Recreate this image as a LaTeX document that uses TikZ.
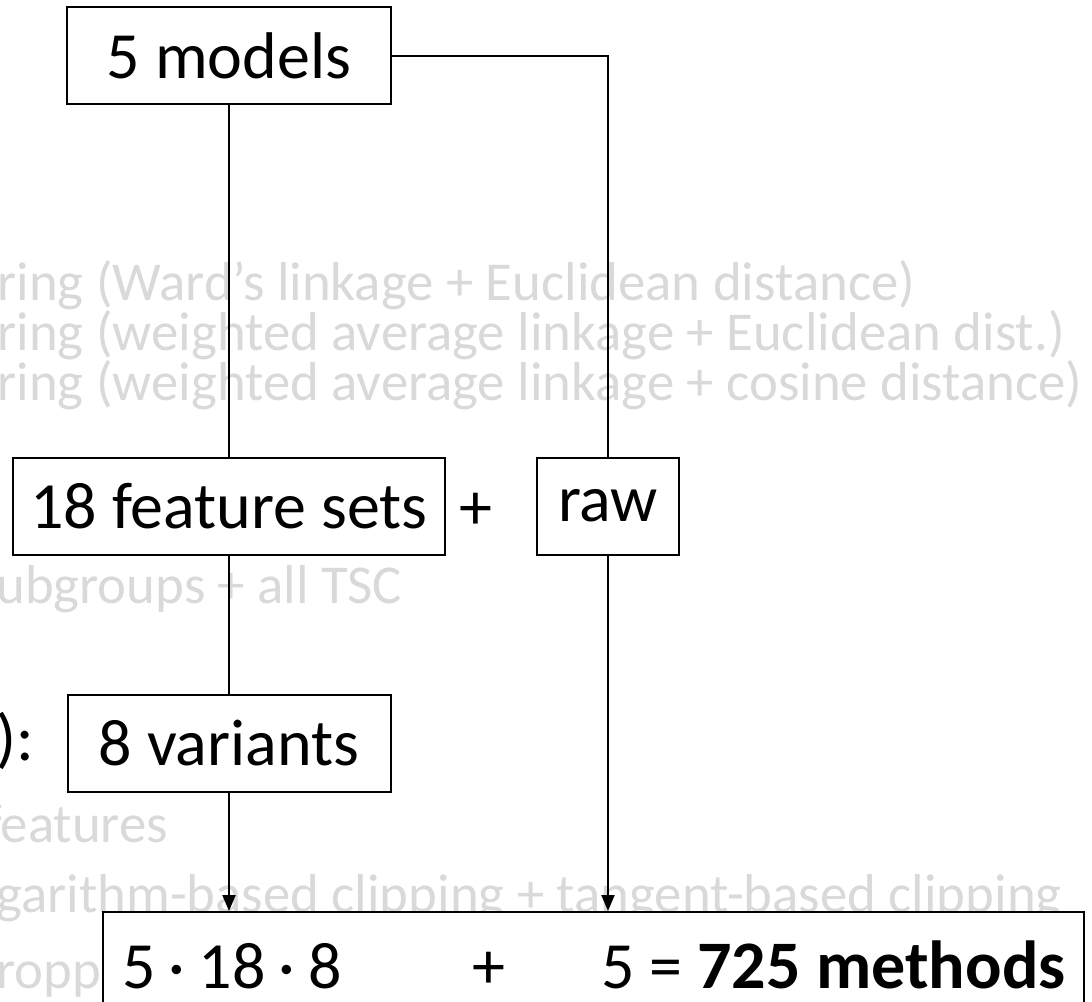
\documentclass[tikz,border=0pt]{standalone}
\usepackage{fontspec}
\setmainfont{Carlito}
\usetikzlibrary{arrows.meta}
\definecolor{lightgrey}{gray}{0.85}
\tikzset{
	box/.style={draw, line width=1pt, fill=white, inner sep=0pt, font=\fontsize{33}{38}\selectfont},
	bigtext/.style={anchor=base west, inner sep=0pt, font=\fontsize{33}{38}\selectfont},
	greytext/.style={anchor=base west, inner sep=0pt, text=lightgrey, font=\fontsize{27.4}{30}\selectfont},
	conn/.style={line width=1pt},
	arr/.style={line width=1pt, -{Triangle[width=6.5pt,length=8pt]}}
}
\begin{document}
\begin{tikzpicture}[x=0.5pt,y=-0.5pt]
	
	\useasboundingbox (0,0) rectangle (1092,1001);
	\clip (0,0) rectangle (1092,1001);
	
	% background text
	\node[greytext] (ward) at (-3,300) {ring (Ward’s linkage + Euclidean distance)};
	\node[greytext] (weuc) at (-3,350) {ring (weighted average linkage + Euclidean dist.)};
	\node[greytext] (wcos) at (-3,400) {ring (weighted average linkage + cosine distance)};
	\node[greytext] (subg) at (-4,603) {ubgroups + all TSC};
	\node[greytext] (feats) at (-15,842) {features};
	\node[greytext] (clip) at (-4,912) {garithm-based clipping + tangent-based clipping};
	\node[greytext] (crop) at (-4,988) {ropping};
	\node[bigtext] (colon) at (-4,760) {):};
	
	\node[box, minimum width=162pt, minimum height=48.5pt] (models) at (229,55.5) {5 models};
	\node[box, minimum width=216pt, minimum height=48.5pt] (feat) at (229,506.5) {18 feature sets};
	\node[bigtext, anchor=base] (plus) at (476,529) {+};
	\node[box, minimum width=71pt, minimum height=48.5pt] (raw) at (608,506) {raw};
	\node[box, minimum width=161.5pt, minimum height=48.5pt] (var) at (229,743.5) {8 variants};
	\node[box, minimum width=490.5pt, minimum height=50pt] (total) at (593.5,962) {};
	
	\node[bigtext] (prod) at (122,988) {5\hspace{.2em}·\hspace{.2em}18\hspace{.2em}·\hspace{.2em}8};
	\node[bigtext, anchor=base] (plustot) at (489,988) {+};
	\node[bigtext, anchor=base east] (res) at (1066,988) {5 = \textbf{\fontsize{34}{38}\selectfont 725 methods}};
	
	\draw[conn] (models.south) -- (feat.north);
	\draw[conn] (feat.south) -- (var.north);
	\draw[arr] (var.south) -- (var.south |- total.north);
	\draw[conn] (models.east) -| (raw.north);
	\draw[arr] (raw.south) -- (raw.south |- total.north);
	
\end{tikzpicture}
\end{document}
